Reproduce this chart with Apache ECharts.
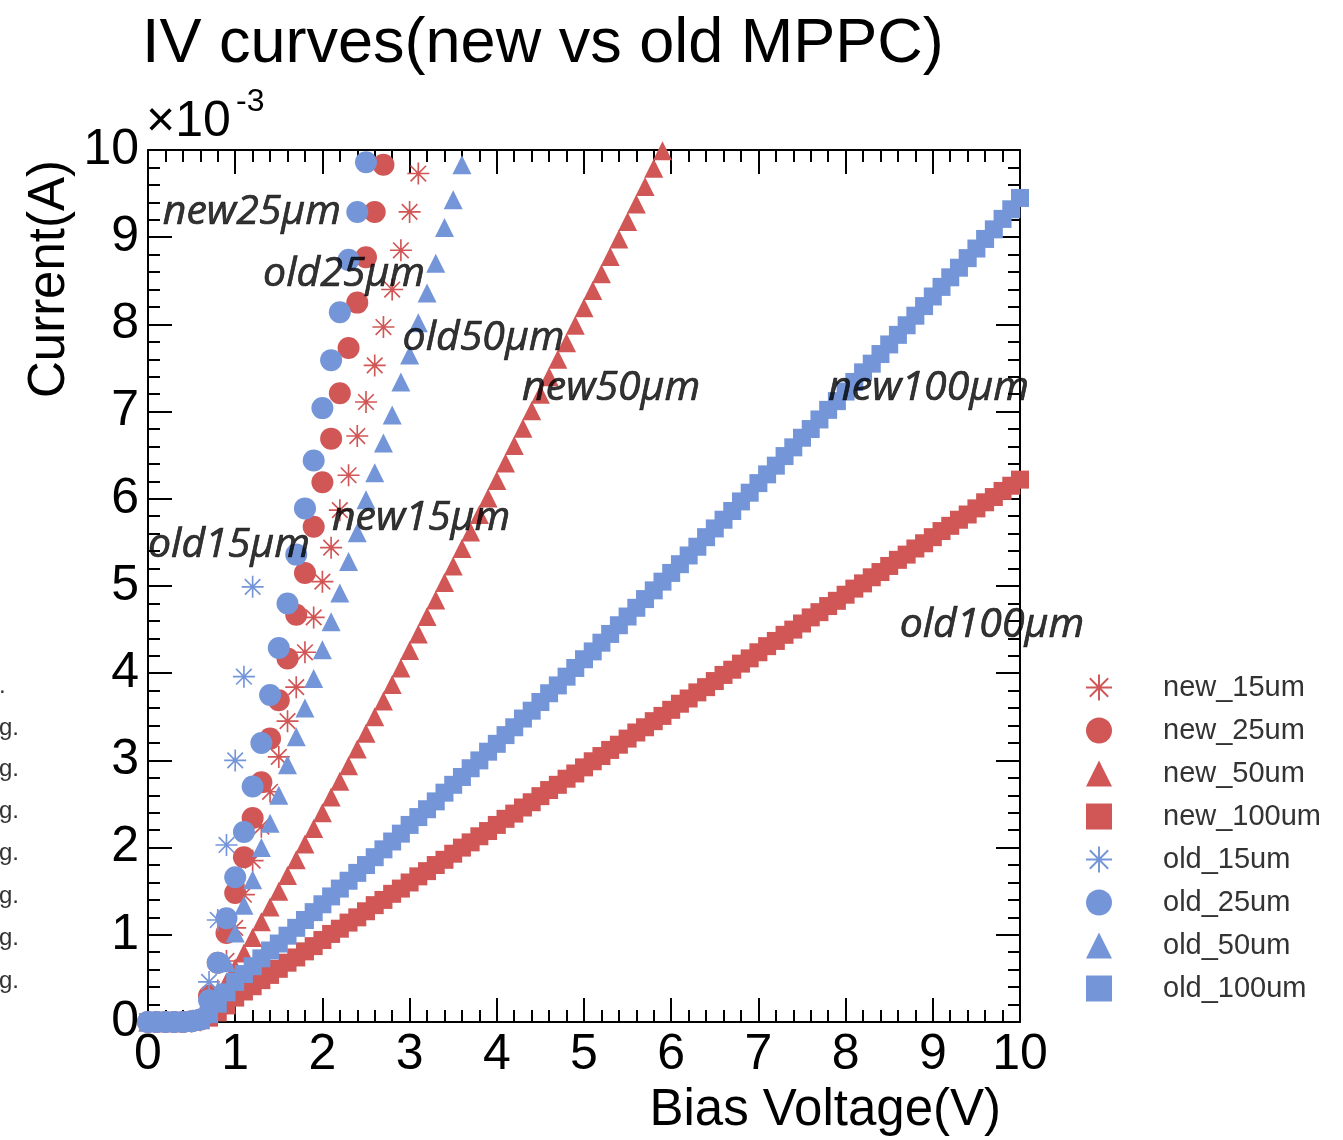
<!DOCTYPE html>
<html>
<head>
<meta charset="utf-8">
<script src="https://cdn.jsdelivr.net/npm/echarts@6/dist/echarts.min.js"></script>
<style>html,body{margin:0;padding:0;background:#fff}#c{width:1343px;height:1140px}</style>
</head>
<body>
<div id="c"></div>
<script>
// ---------- data (Bias Voltage in V, Current in units of 1e-3 A) ----------
const seriesNames = ['new_15um','new_25um','new_50um','new_100um','old_15um','old_25um','old_50um','old_100um'];

const new15V = [0,0.1,0.2,0.3,0.4,0.5,0.6,0.7,0.8,0.9,1.0,1.1,1.2,1.3,1.4,1.5,1.6,1.7,1.8,1.9,2.0,2.1,2.2,2.3,2.4,2.5,2.6,2.7,2.8,2.9,3.0,3.1];
const new15I = [0,0,0,0,0,0.01,0.02,0.10,0.36,0.70,1.08,1.46,1.85,2.24,2.64,3.04,3.45,3.84,4.24,4.64,5.05,5.44,5.87,6.27,6.72,7.11,7.53,7.97,8.40,8.85,9.29,9.73];

const new25V = [0,0.1,0.2,0.3,0.4,0.5,0.6,0.7,0.8,0.9,1.0,1.1,1.2,1.3,1.4,1.5,1.6,1.7,1.8,1.9,2.0,2.1,2.2,2.3,2.4,2.5,2.6,2.7];
const new25I = [0,0,0,0,0,0.01,0.03,0.30,0.68,1.02,1.48,1.89,2.34,2.75,3.25,3.69,4.17,4.67,5.15,5.68,6.19,6.69,7.21,7.73,8.25,8.77,9.29,9.83];

const new50V = [0,0.1,0.2,0.3,0.4,0.5,0.6,0.7,0.8,0.9,1.0,1.1,1.2,1.3,1.4,1.5,1.6,1.7,1.8,1.9,2.0,2.1,2.2,2.3,2.4,2.5,2.6,2.7,2.8,2.9,3.0,3.1,3.2,3.3,3.4,3.5,3.6,3.7,3.8,3.9,4.0,4.1,4.2,4.3,4.4,4.5,4.6,4.7,4.8,4.9,5.0,5.1,5.2,5.3,5.4,5.5,5.6,5.7,5.8,5.9];
const new50I = [0,0,0,0,0,0.01,0.03,0.15,0.30,0.46,0.62,0.79,0.97,1.15,1.32,1.50,1.68,1.86,2.04,2.22,2.40,2.58,2.76,2.94,3.13,3.31,3.50,3.68,3.87,4.06,4.26,4.45,4.65,4.84,5.04,5.23,5.43,5.62,5.82,6.01,6.21,6.41,6.61,6.81,7.01,7.20,7.40,7.60,7.79,7.99,8.19,8.39,8.58,8.78,8.98,9.18,9.38,9.58,9.79,9.99];

const volt100 = [0,0.1,0.2,0.3,0.4,0.5,0.6,0.7,0.8,0.9,1.0,1.1,1.2,1.3,1.4,1.5,1.6,1.7,1.8,1.9,2.0,2.1,2.2,2.3,2.4,2.5,2.6,2.7,2.8,2.9,3.0,3.1,3.2,3.3,3.4,3.5,3.6,3.7,3.8,3.9,4.0,4.1,4.2,4.3,4.4,4.5,4.6,4.7,4.8,4.9,5.0,5.1,5.2,5.3,5.4,5.5,5.6,5.7,5.8,5.9,6.0,6.1,6.2,6.3,6.4,6.5,6.6,6.7,6.8,6.9,7.0,7.1,7.2,7.3,7.4,7.5,7.6,7.7,7.8,7.9,8.0,8.1,8.2,8.3,8.4,8.5,8.6,8.7,8.8,8.9,9.0,9.1,9.2,9.3,9.4,9.5,9.6,9.7,9.8,9.9,10.0];
const new100I = [0,0,0,0,0,0.01,0.02,0.05,0.11,0.19,0.28,0.35,0.41,0.48,0.54,0.61,0.68,0.74,0.81,0.87,0.94,1.01,1.07,1.14,1.20,1.27,1.34,1.40,1.47,1.53,1.60,1.67,1.73,1.80,1.86,1.93,2.00,2.06,2.13,2.19,2.26,2.33,2.39,2.46,2.52,2.59,2.66,2.72,2.79,2.85,2.92,2.99,3.05,3.12,3.18,3.25,3.32,3.38,3.45,3.51,3.58,3.65,3.71,3.78,3.84,3.91,3.98,4.04,4.11,4.17,4.24,4.31,4.37,4.44,4.50,4.57,4.64,4.70,4.77,4.83,4.90,4.97,5.03,5.10,5.16,5.23,5.30,5.36,5.43,5.49,5.56,5.63,5.69,5.76,5.82,5.89,5.96,6.02,6.09,6.15,6.22];

const old15V = [0,0.1,0.2,0.3,0.4,0.5,0.6,0.7,0.8,0.9,1.0,1.1,1.2];
const old15I = [0,0,0,0,0,0.01,0.05,0.46,1.17,2.03,3.00,3.96,4.99];

const old25V = [0,0.1,0.2,0.3,0.4,0.5,0.6,0.7,0.8,0.9,1.0,1.1,1.2,1.3,1.4,1.5,1.6,1.7,1.8,1.9,2.0,2.1,2.2,2.3,2.4,2.5];
const old25I = [0,0,0,0,0,0.01,0.03,0.25,0.68,1.19,1.66,2.18,2.70,3.20,3.75,4.29,4.80,5.36,5.89,6.44,7.04,7.59,8.14,8.74,9.29,9.86];

const old50V = [0,0.1,0.2,0.3,0.4,0.5,0.6,0.7,0.8,0.9,1.0,1.1,1.2,1.3,1.4,1.5,1.6,1.7,1.8,1.9,2.0,2.1,2.2,2.3,2.4,2.5,2.6,2.7,2.8,2.9,3.0,3.1,3.2,3.3,3.4,3.5,3.6];
const old50I = [0,0,0,0,0,0.01,0.03,0.10,0.35,0.68,1.02,1.34,1.63,2.00,2.28,2.60,2.95,3.27,3.60,3.94,4.27,4.59,4.92,5.28,5.61,5.99,6.30,6.64,6.96,7.34,7.65,8.02,8.36,8.70,9.11,9.43,9.83];

const old100I = [0,0,0,0,0.01,0.01,0.03,0.09,0.21,0.34,0.46,0.55,0.64,0.73,0.82,0.90,0.99,1.08,1.17,1.26,1.35,1.44,1.53,1.62,1.71,1.80,1.89,1.98,2.07,2.16,2.26,2.35,2.44,2.53,2.63,2.72,2.81,2.91,3.00,3.10,3.19,3.29,3.38,3.48,3.57,3.67,3.77,3.86,3.96,4.06,4.16,4.25,4.35,4.45,4.55,4.65,4.75,4.85,4.95,5.05,5.15,5.25,5.35,5.45,5.56,5.66,5.76,5.86,5.97,6.07,6.18,6.28,6.38,6.49,6.59,6.70,6.80,6.91,7.02,7.12,7.23,7.34,7.45,7.55,7.66,7.77,7.88,7.99,8.10,8.21,8.32,8.43,8.54,8.65,8.76,8.87,8.98,9.09,9.21,9.32,9.45];

// in-plot annotations: [V, I, text]
const annotations = [
  [0.17, 9.29, 'new25μm'],
  [1.32, 8.57, 'old25μm'],
  [2.92, 7.84, 'old50μm'],
  [4.29, 7.27, 'new50μm'],
  [7.80, 7.27, 'new100μm'],
  [2.11, 5.78, 'new15μm'],
  [0.00, 5.47, 'old15μm'],
  [8.62, 4.55, 'old100μm']
];
const xTicks = [0,1,2,3,4,5,6,7,8,9,10];
const yTicks = [0,1,2,3,4,5,6,7,8,9,10];

// ---------- styling ----------
const RED = '#d15656', BLUE = '#7496d9';
const ASTER = 'path://M0 9.25L20 9.25L20 10.75L0 10.75Z M9.25 0L10.75 0L10.75 20L9.25 20Z M3.46 2.40L17.60 16.54L16.54 17.60L2.40 3.46Z M16.54 2.40L17.60 3.46L3.46 17.60L2.40 16.54Z';
const FONT = 'Liberation Sans, Arial, sans-serif';

function zip(xs, ys){ return xs.map((x,i)=>[x, ys[i]]); }
function sc(name, xs, ys, symbol, size, color){
  return { name, type:'scatter', data: zip(xs, ys), symbol, symbolSize:size,
    itemStyle:{ color, opacity:1 }, xAxisIndex:0, yAxisIndex:0, animation:false, silent:true };
}

const series = [
  sc('new_15um', new15V, new15I, ASTER, 22, RED),
  sc('new_25um', new25V, new25I, 'circle', 22, RED),
  sc('new_50um', new50V, new50I, 'triangle', 19, RED),
  sc('new_100um', volt100, new100I, 'rect', 18, RED),
  sc('old_15um', old15V, old15I, ASTER, 22, BLUE),
  sc('old_25um', old25V, old25I, 'circle', 22, BLUE),
  sc('old_50um', old50V, old50I, 'triangle', 19, BLUE),
  sc('old_100um', volt100, old100I, 'rect', 18, BLUE),
  { name:'annot', type:'scatter', data: annotations, symbolSize:0, silent:true, z:10,
    label:{ show:true, position:'right', distance:0, formatter:p=>p.data[2],
      fontFamily:'Open Sans', fontStyle:'italic', fontSize:41, color:'#000',
      textBorderColor:'#000', textBorderWidth:0.7 } }
];

const tickCommon = { show:true, inside:true, length:24, lineStyle:{ color:'#000', width:2 } };
const minorCommon = { show:true, splitNumber:5, length:12, lineStyle:{ color:'#000', width:2 } };

const gLeft = 148, gTop = 150, gW = 872, gH = 872;

const chart = echarts.init(document.getElementById('c'), null, { renderer:'canvas' });
chart.setOption({
  animation:false,
  backgroundColor:'#fff',
  title:{ text:'IV curves(new vs old MPPC)', left:137, top:8,
    textStyle:{ fontFamily:FONT, fontSize:63, fontWeight:'normal', color:'#000' } },
  grid:{ left:gLeft, top:gTop, width:gW, height:gH, containLabel:false },
  legend:{ data:seriesNames, orient:'vertical', left:1081, top:668, itemWidth:26, itemHeight:26,
    itemGap:14, selectedMode:false,
    textStyle:{ fontFamily:FONT, fontSize:29, color:'#333', padding:[0,0,0,46] } },
  xAxis:[
    { type:'value', min:0, max:10, interval:1, position:'bottom',
      axisLine:{ show:true, onZero:false, lineStyle:{ color:'#000', width:2 } },
      axisTick:tickCommon, minorTick:minorCommon, splitLine:{show:false},
      axisLabel:{ show:true, margin:8, fontFamily:FONT, fontSize:50, color:'#000',
        formatter:v=> xTicks.includes(v) ? String(v) : '' } },
    { type:'value', min:0, max:10, interval:1, position:'top',
      axisLine:{ show:true, onZero:false, lineStyle:{ color:'#000', width:2 } },
      axisTick:tickCommon, minorTick:minorCommon, splitLine:{show:false}, axisLabel:{show:false} }
  ],
  yAxis:[
    { type:'value', min:0, max:10, interval:1, position:'left',
      axisLine:{ show:true, onZero:false, lineStyle:{ color:'#000', width:2 } },
      axisTick:tickCommon, minorTick:minorCommon, splitLine:{show:false},
      axisLabel:{ show:true, margin:9, fontFamily:FONT, fontSize:50, color:'#000',
        formatter:v=> yTicks.includes(v) ? String(v) : '' } },
    { type:'value', min:0, max:10, interval:1, position:'right',
      axisLine:{ show:true, onZero:false, lineStyle:{ color:'#000', width:2 } },
      axisTick:tickCommon, minorTick:minorCommon, splitLine:{show:false}, axisLabel:{show:false} }
  ],
  graphic:[
    { type:'text', left:146, top:97, style:{ text:'×10', fontFamily:FONT, fontSize:50, fill:'#000' } },
    { type:'text', left:236, top:86, style:{ text:'-3', fontFamily:FONT, fontSize:32, fill:'#000' } },
    { type:'text', x:1001, y:1111, style:{ text:'Bias Voltage(V)', fontFamily:FONT, fontSize:51, fill:'#000', align:'right', verticalAlign:'middle' } },
    { type:'text', x:50, y:160, rotation:Math.PI/2, style:{ text:'Current(A)', fontFamily:FONT, fontSize:51, fill:'#000', align:'right', verticalAlign:'middle' } },
    { type:'text', x:-1, y:686, style:{ text:'.', fontFamily:FONT, fontSize:24, fill:'#333', verticalAlign:'middle' } },
    { type:'text', x:-1, y:728, style:{ text:'g.', fontFamily:FONT, fontSize:24, fill:'#333', verticalAlign:'middle' } },
    { type:'text', x:-1, y:769, style:{ text:'g.', fontFamily:FONT, fontSize:24, fill:'#333', verticalAlign:'middle' } },
    { type:'text', x:-1, y:811, style:{ text:'g.', fontFamily:FONT, fontSize:24, fill:'#333', verticalAlign:'middle' } },
    { type:'text', x:-1, y:853, style:{ text:'g.', fontFamily:FONT, fontSize:24, fill:'#333', verticalAlign:'middle' } },
    { type:'text', x:-1, y:896, style:{ text:'g.', fontFamily:FONT, fontSize:24, fill:'#333', verticalAlign:'middle' } },
    { type:'text', x:-1, y:938, style:{ text:'g.', fontFamily:FONT, fontSize:24, fill:'#333', verticalAlign:'middle' } },
    { type:'text', x:-1, y:981, style:{ text:'g.', fontFamily:FONT, fontSize:24, fill:'#333', verticalAlign:'middle' } }
  ],
  series
});
</script>
</body>
</html>
